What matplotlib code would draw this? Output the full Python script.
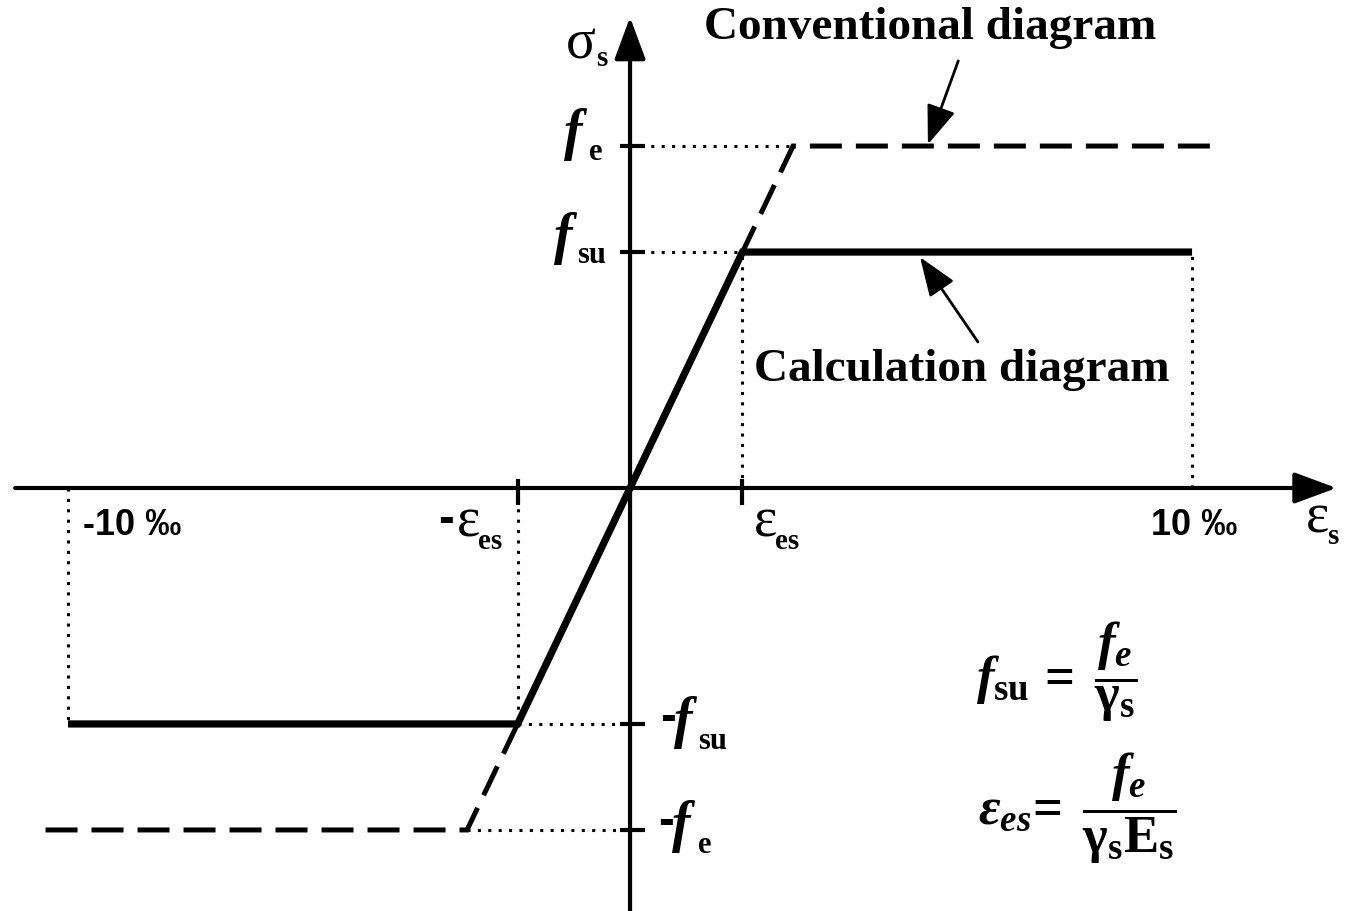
import matplotlib
matplotlib.use("Agg")
import matplotlib.pyplot as plt

# Strains in per mille, stresses normalised by f_e
eps_es = 2.0      # yield strain of the calculation diagram
eps_lim = 10.0    # strain limit (10 per mille)
eps_e = 2.9       # strain at which the conventional diagram reaches f_e
eps_end = 10.4    # end of the conventional plateau
f_e = 1.0
f_su = 0.69

calc_eps = [-eps_lim, -eps_es, eps_es, eps_lim]
calc_sig = [-f_su, -f_su, f_su, f_su]
conv_eps = [-eps_end, -eps_e, eps_e, eps_end]
conv_sig = [-f_e, -f_e, f_e, f_e]

SERIF = "Liberation Serif"
SANS = "Liberation Sans"

plt.rcParams["mathtext.fontset"] = "custom"
plt.rcParams["mathtext.rm"] = "Liberation Serif:bold"
plt.rcParams["mathtext.bf"] = "Liberation Serif:bold"
plt.rcParams["mathtext.it"] = "Liberation Serif:italic:bold"
plt.rcParams["mathtext.sf"] = "Liberation Serif"

fig = plt.figure(figsize=(13.5, 9.12), dpi=100)
ax = fig.add_axes([0, 0, 1, 1])
ax.set_xlim(-11.21, 12.81)
ax.set_ylim(-1.237, 1.430)
ax.axis("off")

K = "black"
X_MIN, X_TIP = -10.94, 12.57
Y_MIN, Y_TIP = -1.24, 1.377

# coordinate axes with arrow heads
axis_arrow = dict(arrowstyle="-|>,head_length=1.3,head_width=0.48",
                  mutation_scale=20, lw=3, color=K, shrinkA=0, shrinkB=0)
ax.annotate("", xy=(X_TIP, 0), xytext=(X_MIN, 0), arrowprops=axis_arrow)
ax.annotate("", xy=(0, Y_TIP), xytext=(0, Y_MIN), arrowprops=axis_arrow)

# tick marks
ax.vlines([-eps_es, eps_es], -0.05, 0.025, lw=3, color=K)
ax.hlines([f_e, f_su, -f_su, -f_e], -0.18, 0.27, lw=3, color=K)

# dotted guide lines
dot = dict(color=K, lw=2.2, ls=(0, (1, 2.4)), dash_capstyle="butt")
ax.plot([0, eps_e], [f_e, f_e], **dot)
ax.plot([0, eps_es], [f_su, f_su], **dot)
ax.plot([eps_es, eps_es], [0, f_su], **dot)
ax.plot([eps_lim, eps_lim], [0, f_su], **dot)
ax.plot([-eps_lim, -eps_lim], [0, -f_su], **dot)
ax.plot([-eps_es, -eps_es], [0, -f_su], **dot)
ax.plot([-eps_es, 0], [-f_su, -f_su], **dot)
ax.plot([-eps_e, 0], [-f_e, -f_e], **dot)

# conventional (dashed) and calculation (solid) diagrams
ax.plot(conv_eps, conv_sig, color=K, lw=3.6, ls=(0, (6.4, 2.8)),
        dash_capstyle="butt", dash_joinstyle="miter", zorder=3)
ax.plot(calc_eps, calc_sig, color=K, lw=5.2, solid_capstyle="butt",
        solid_joinstyle="miter", zorder=4)


def symbol(xy, main, sub, off, main_kw, sub_kw, sub_off, ha="left", minus=None):
    t = ax.annotate(main, xy=xy, xytext=off, textcoords="offset pixels",
                    ha=ha, va="baseline", **main_kw)
    ax.annotate(sub, xy=(1, 0), xycoords=t, xytext=sub_off,
                textcoords="offset pixels", ha="left", va="bottom", **sub_kw)
    if minus is not None:
        ax.annotate("-", xy=(0, 0.5), xycoords=t, xytext=minus,
                    textcoords="offset pixels", ha="right", va="center",
                    family=SANS, weight="bold", fontsize=34)
    return t


greek = dict(family=SERIF, fontsize=40)
f_main = dict(family=SERIF, fontsize=40, weight="bold", style="italic")
sub_big = dict(family=SERIF, fontsize=22, weight="bold")
sub_small = dict(family=SERIF, fontsize=21, weight="bold")

# axis names
symbol((0, Y_TIP), "σ", "s", (-64, -40), greek, sub_small, (0, -2))
symbol((X_TIP, 0), "ε", "s", (-31, -44), greek, sub_small, (-2, -5))

# strain labels
symbol((eps_es, 0), "ε", "es", (11, -48), greek, sub_small, (-2, -6))
symbol((-eps_es, 0), "ε", "es", (-61, -48), greek, sub_small, (-2, -6),
       minus=(-3, 3))
ax.annotate("-10 ‰", xy=(-eps_lim, 0), xytext=(15, -37), textcoords="offset pixels",
            ha="left", va="center", family=SANS, weight="bold", fontsize=26)
ax.annotate("10 ‰", xy=(eps_lim, 0), xytext=(2, -37), textcoords="offset pixels",
            ha="center", va="center", family=SANS, weight="bold", fontsize=26)

# stress labels
symbol((0, f_e), "f", "e", (-66, -2), f_main, sub_big, (6, -6))
symbol((0, f_su), "f", "su", (-76, 0), f_main, sub_big, (5, -5))
symbol((0, -f_su), "f", "su", (44, -12), f_main, sub_big, (6, -7), minus=(2, 4))
symbol((0, -f_e), "f", "e", (42, -10), f_main, sub_big, (7, -7), minus=(2, 4))

# diagram names with pointers
ax.text(5.34, 1.348, "Conventional diagram", ha="center", va="center",
        family=SERIF, weight="bold", fontsize=34)
ax.text(5.91, 0.348, "Calculation diagram", ha="center", va="center",
        family=SERIF, weight="bold", fontsize=34)
pointer = dict(arrowstyle="-|>,head_length=1.2,head_width=0.45", mutation_scale=20,
               lw=2, color=K, shrinkA=0, shrinkB=0)
ax.annotate("", xy=(5.30, f_e + 0.005), xytext=(5.84, 1.249), arrowprops=pointer)
ax.annotate("", xy=(5.16, f_su - 0.015), xytext=(6.19, 0.427), arrowprops=pointer)

# design formulas
ax.text(7.58, -0.535,
        r"$\mathit{f}_{\mathrm{su}}\,=\;\dfrac{\mathit{f_e}}{\mathrm{γ_s}}$",
        ha="center", va="center", fontsize=38)
ax.text(7.95, -0.935,
        r"$\mathit{ε_{es}}\!=\;\dfrac{\;\mathit{f_e}\;}{\mathrm{γ_s E_s}}$",
        ha="center", va="center", fontsize=38)

fig.savefig("out.png", dpi=100, facecolor="white")
